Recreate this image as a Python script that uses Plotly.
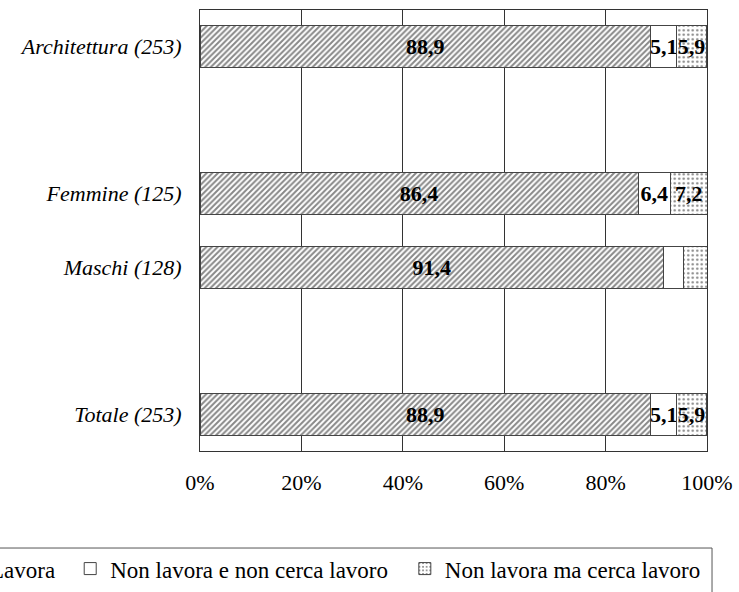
import plotly.graph_objects as go

categories = ["Architettura (253)", "Femmine (125)", "Maschi (128)", "Totale (253)"]
lavora = [88.9, 86.4, 91.4, 88.9]
non_lavora_non_cerca = [5.1, 6.4, 3.9, 5.1]
non_lavora_cerca = [5.9, 7.2, 4.7, 5.9]
show_small_labels = [True, True, False, True]
series_names = ["Lavora", "Non lavora e non cerca lavoro", "Non lavora ma cerca lavoro"]
x_ticks = [0, 20, 40, 60, 80, 100]

# category order on the axis (bottom to top), with empty spacer slots
category_order = ["Totale (253)", " ", "Maschi (128)", "Femmine (125)", "  ", "Architettura (253)"]

SERIF = "Liberation Serif"
label_font = dict(family=SERIF, size=22, color="black", weight="bold")
legend_font = dict(family=SERIF, size=23, color="black")

fig = go.Figure()

fig.add_trace(go.Bar(
    name=series_names[0], y=categories, x=lavora, orientation="h", legend="legend",
    marker=dict(color="white", line=dict(color="#444", width=1),
                pattern=dict(shape="/", size=4, solidity=0.5, fgcolor="#111", bgcolor="white")),
    texttemplate="%{x:.1f}", textposition="inside", insidetextanchor="middle",
    textangle=0, constraintext="none", textfont=label_font,
))
fig.add_trace(go.Bar(
    name=series_names[1], y=categories, x=non_lavora_non_cerca, orientation="h", legend="legend2",
    marker=dict(color="white", line=dict(color="#444", width=1)),
    texttemplate=["%{x:.1f}" if s else "" for s in show_small_labels],
    textposition="inside", insidetextanchor="middle",
    textangle=0, constraintext="none", textfont=label_font,
))
fig.add_trace(go.Bar(
    name=series_names[2], y=categories, x=non_lavora_cerca, orientation="h", legend="legend3",
    marker=dict(color="white", line=dict(color="#444", width=1),
                pattern=dict(shape=".", size=4.5, solidity=0.22, fgcolor="#000", bgcolor="white")),
    texttemplate=["%{x:.1f}" if s else "" for s in show_small_labels],
    textposition="inside", insidetextanchor="middle",
    textangle=0, constraintext="none", textfont=label_font,
))

legend_common = dict(orientation="h", xanchor="left", yanchor="top", y=-0.218,
                     font=legend_font, borderwidth=0, bgcolor="rgba(0,0,0,0)", itemwidth=30)

fig.update_layout(
    width=739, height=592,
    barmode="stack", bargap=0.43,
    separators=",.",
    paper_bgcolor="white", plot_bgcolor="white",
    margin=dict(l=200, r=32, t=10, b=141, autoexpand=False),
    font=dict(family=SERIF, color="black"),
    showlegend=True,
    legend=dict(legend_common, x=-0.493),
    legend2=dict(legend_common, x=-0.256),
    legend3=dict(legend_common, x=0.404),
    shapes=[dict(type="rect", xref="paper", yref="paper",
                 x0=-0.6, x1=1.0099, y0=-0.22, y1=-0.42,
                 line=dict(color="#555", width=1), fillcolor="rgba(0,0,0,0)", layer="below")],
    xaxis=dict(
        range=[0, 100], tickvals=x_ticks, ticktext=[f"{v}%" for v in x_ticks],
        showgrid=True, gridcolor="#333", gridwidth=1,
        showline=True, linecolor="#333", linewidth=1, mirror=True,
        zeroline=False, ticks="", ticklabelstandoff=12,
        tickfont=dict(family=SERIF, size=22, color="black"),
        fixedrange=True,
    ),
    yaxis=dict(
        type="category", categoryorder="array", categoryarray=category_order,
        range=[-0.5, 5.5],
        showgrid=False, showline=True, linecolor="#333", linewidth=1, mirror=True,
        ticks="", ticklabelstandoff=13,
        tickfont=dict(family=SERIF, size=22, color="black", style="italic"),
        fixedrange=True,
    ),
)

fig.write_html("out.html", config={"displayModeBar": False},
               post_script="document.body.style.margin='0';")
